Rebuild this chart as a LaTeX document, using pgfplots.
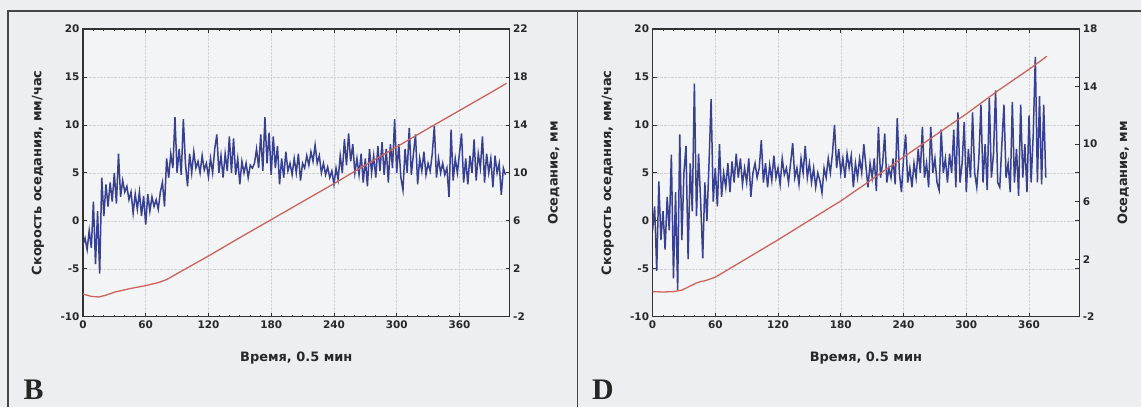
\documentclass[border=0pt]{standalone}
\usepackage{fontspec}
\setmainfont{DejaVu Sans}
\newfontfamily\letterfont{Liberation Serif}
\usepackage{pgfplots}
\pgfplotsset{compat=1.18}

\definecolor{pagebg}{RGB}{236,238,241}
\definecolor{plotbg}{RGB}{243,244,246}
\definecolor{framec}{RGB}{70,70,72}
\definecolor{axdark}{RGB}{50,50,52}
\definecolor{gridc}{RGB}{208,210,215}
\definecolor{speed}{RGB}{55,64,145}
\definecolor{settle}{RGB}{205,100,92}
\definecolor{labtext}{RGB}{40,40,44}

\newcommand\labfont{\fontsize{13}{15}\selectfont\bfseries}

\pgfplotsset{
  panel/.style={
    scale only axis, width=427bp, height=288bp,
    anchor=south west, xmin=0, xmax=408,
    axis line style={draw=axdark, line width=1.3bp},
    tick style={draw=axdark, line width=0.8bp},
    major tick length=4bp, minor tick length=2bp,
    ticklabel style={font=\fontsize{10.5}{12}\selectfont\bfseries, text=labtext},
    /pgf/number format/assume math mode=true,
  },
  leftaxis/.style={
    panel, ymin=-10, ymax=20, ytick={-10,-5,...,20},
    xtick={0,60,...,360}, minor x tick num=5,
    grid=major, grid style={densely dotted, gridc, line width=0.6bp},
    axis background/.style={fill=plotbg},
    xlabel={Время, 0.5 мин},
    ylabel={Скорость оседания, мм/час},
    every axis x label/.style={at={(rel axis cs:0.5,0)}, anchor=center, yshift=-41bp, font=\labfont, text=labtext},
    every axis y label/.style={at={(rel axis cs:0,0.5)}, xshift=-45bp, rotate=90, anchor=center, font=\labfont, text=labtext},
  },
  rightaxis/.style={
    panel, axis y line*=right, axis x line=none,
    ylabel={Оседание, мм},
    every axis y label/.style={at={(rel axis cs:1,0.5)}, xshift=44bp, rotate=90, anchor=center, font=\labfont, text=labtext},
  },
}

\begin{document}
\begin{tikzpicture}
\fill[pagebg] (0,0) rectangle (1142bp,407bp);
\draw[framec, line width=1.6bp] (8bp,0) -- (8bp,396bp) -- (1142bp,396bp);
\draw[framec, line width=1.6bp] (578bp,0) -- (578bp,396bp);
\node[anchor=base west, font=\letterfont\fontsize{30}{32}\selectfont\bfseries, text=black!85] at (20bp,7bp) {B};
\node[anchor=base west, font=\letterfont\fontsize{30}{32}\selectfont\bfseries, text=black!85] at (589bp,7bp) {D};

% ---------- panel B ----------
\begin{axis}[leftaxis, at={(83bp,90bp)}]
\addplot[speed, line width=1.5bp] coordinates {
(0,-2.5)(2,-1.8)(4,-3.0)(6,-1.0)(8,-2.8)(10,2.0)(12,-4.5)(14,1.0)(16,-5.5)(18,4.5)
(20,0.5)(22,3.8)(24,1.5)(26,4.0)(28,2.0)(30,5.0)(32,1.8)(34,7.0)(36,2.5)(38,4.2)
(40,3.0)(42,3.6)(44,2.2)(46,3.0)(48,0.8)(50,2.8)(52,1.2)(54,3.0)(56,0.5)(58,2.6)
(60,-0.4)(62,2.8)(64,1.0)(66,2.5)(68,1.5)(70,2.2)(72,1.2)(74,3.0)(76,4.0)(78,1.5)
(80,6.5)(82,4.5)(84,7.0)(86,5.5)(88,10.8)(90,5.0)(92,7.5)(94,4.8)(96,10.6)(98,6.0)
(100,3.6)(102,7.0)(104,5.0)(106,7.2)(108,5.5)(110,6.2)(112,5.0)(114,6.8)(116,5.3)(118,6.0)
(120,4.6)(122,6.5)(124,5.0)(126,7.5)(128,9.0)(130,5.0)(132,6.8)(134,4.5)(136,7.0)(138,5.2)
(140,8.8)(142,5.0)(144,8.6)(146,4.8)(148,6.5)(150,3.8)(152,6.2)(154,5.0)(156,6.0)(158,4.5)
(160,5.8)(162,5.5)(164,6.0)(166,7.5)(168,5.5)(170,9.0)(172,5.2)(174,10.8)(176,6.0)(178,9.2)
(180,4.8)(182,8.8)(184,5.5)(186,7.8)(188,3.8)(190,6.5)(192,4.5)(194,7.2)(196,5.2)(198,6.0)
(200,4.8)(202,6.5)(204,5.0)(206,7.0)(208,4.2)(210,6.0)(212,5.5)(214,6.8)(216,5.8)(218,7.2)
(220,6.2)(222,7.9)(224,6.0)(226,6.8)(228,5.0)(230,6.0)(232,4.8)(234,5.6)(236,4.5)(238,5.2)
(240,3.8)(242,5.5)(244,4.3)(246,6.8)(248,5.0)(250,8.5)(252,5.8)(254,9.1)(256,6.2)(258,8.0)
(260,5.0)(262,6.5)(264,4.8)(266,7.0)(268,4.0)(270,6.5)(272,3.6)(274,7.5)(276,5.0)(278,6.8)
(280,4.5)(282,7.8)(284,5.2)(286,8.2)(288,4.8)(290,7.5)(292,4.0)(294,8.0)(296,5.5)(298,10.6)
(300,5.0)(302,8.0)(304,4.5)(306,3.2)(308,7.5)(310,5.0)(312,9.7)(314,4.8)(316,7.0)(318,9.0)
(320,3.8)(322,6.5)(324,5.2)(326,7.2)(328,4.8)(330,6.0)(332,5.2)(334,7.0)(336,9.9)(338,4.5)
(340,6.5)(342,5.0)(344,6.0)(346,4.8)(348,5.5)(350,2.5)(352,9.5)(354,4.2)(356,6.5)(358,5.0)
(360,7.0)(362,9.1)(364,4.0)(366,6.5)(368,3.8)(370,6.8)(372,5.0)(374,8.5)(376,4.2)(378,7.0)
(380,5.5)(382,8.8)(384,4.0)(386,7.0)(388,5.0)(390,6.5)(392,3.5)(394,6.8)(396,5.0)(398,6.0)
(400,2.7)(402,5.5)(404,4.8)
};
\end{axis}
\begin{axis}[rightaxis, at={(83bp,90bp)}, ymin=-2, ymax=22, ytick={-2,2,...,22}]
\addplot[settle, line width=1.3bp] coordinates {
(0,-0.1)(8,-0.3)(15,-0.35)(22,-0.2)(30,0.05)(45,0.35)(60,0.6)(72,0.85)(80,1.1)(90,1.6)
(120,3.07)(150,4.6)(180,6.1)(210,7.6)(240,9.1)(270,10.65)(300,12.17)(330,13.7)(360,15.2)(390,16.7)(405,17.47)
};
\end{axis}

% ---------- panel D ----------
\begin{axis}[leftaxis, at={(653bp,90bp)}]
\addplot[speed, line width=1.5bp] coordinates {
(0,-1.0)(2,1.5)(4,-5.2)(6,4.1)(8,-2.0)(10,1.0)(12,-3.0)(14,2.5)(16,-1.0)(18,6.9)
(20,-6.0)(22,3.0)(24,-7.2)(26,9.0)(28,-2.0)(30,5.0)(32,7.8)(34,-4.0)(36,6.0)(38,1.0)
(40,14.3)(42,0.5)(44,7.0)(46,2.0)(48,-3.9)(50,4.0)(52,0.0)(54,6.0)(56,12.7)(58,2.0)
(60,5.5)(62,1.5)(64,8.0)(66,2.5)(68,5.0)(70,3.5)(72,6.0)(74,3.0)(76,6.2)(78,4.0)
(80,7.0)(82,4.5)(84,6.5)(86,3.8)(88,5.5)(90,4.0)(92,6.5)(94,2.5)(96,5.0)(98,6.0)
(100,4.5)(102,5.5)(104,8.4)(106,4.0)(108,6.0)(110,3.5)(112,5.8)(114,4.2)(116,6.8)(118,4.5)
(120,5.5)(122,3.8)(124,6.5)(126,4.8)(128,5.5)(130,4.0)(132,6.0)(134,8.1)(136,4.5)(138,5.5)
(140,3.8)(142,6.5)(144,5.0)(146,7.8)(148,4.5)(150,6.0)(152,4.0)(154,5.5)(156,3.5)(158,5.0)
(160,4.2)(162,2.9)(164,5.5)(166,4.5)(168,6.5)(170,5.0)(172,7.0)(174,10.0)(176,5.5)(178,7.5)
(180,5.0)(182,6.5)(184,4.5)(186,7.0)(188,5.5)(190,6.8)(192,3.5)(194,6.0)(196,4.5)(198,6.5)
(200,5.0)(202,8.0)(204,5.7)(206,3.5)(208,6.0)(210,4.5)(212,6.5)(214,3.1)(216,9.8)(218,4.5)
(220,6.0)(222,9.1)(224,4.0)(226,5.5)(228,4.5)(230,6.5)(232,3.8)(234,10.7)(236,5.0)(238,3.0)
(240,6.5)(242,9.0)(244,4.0)(246,5.5)(248,3.5)(250,6.0)(252,4.5)(254,7.5)(256,5.0)(258,9.8)
(260,4.5)(262,6.0)(264,3.5)(266,9.8)(268,5.0)(270,6.5)(272,4.0)(274,3.2)(276,9.5)(278,5.0)
(280,6.5)(282,4.0)(284,7.0)(286,5.0)(288,9.5)(290,3.5)(292,11.3)(294,4.0)(296,6.0)(298,10.3)
(300,3.0)(302,7.5)(304,4.5)(306,11.3)(308,5.0)(310,3.5)(312,6.5)(314,12.1)(316,4.0)(318,8.0)
(320,3.2)(322,12.8)(324,4.5)(326,7.0)(328,13.6)(330,4.0)(332,3.5)(334,8.0)(336,12.1)(338,4.5)
(340,6.0)(342,3.0)(344,12.4)(346,4.0)(348,7.5)(350,2.6)(352,12.1)(354,4.5)(356,8.0)(358,3.0)
(360,11.0)(362,4.0)(364,9.0)(366,17.1)(368,4.0)(370,13.0)(372,3.8)(374,12.1)(376,4.5)
};
\end{axis}
\begin{axis}[rightaxis, at={(653bp,90bp)}, ymin=-2, ymax=18, ytick={-2,2,...,18}]
\addplot[settle, line width=1.3bp] coordinates {
(0,-0.25)(10,-0.28)(20,-0.25)(28,-0.15)(35,0.1)(42,0.35)(46,0.45)(50,0.5)(60,0.75)(75,1.4)
(90,2.05)(105,2.7)(120,3.35)(150,4.7)(180,6.05)(204,7.25)(240,9.1)(270,10.6)(300,12.1)(330,13.7)(360,15.2)(377,16.1)
};
\end{axis}
\end{tikzpicture}
\end{document}
